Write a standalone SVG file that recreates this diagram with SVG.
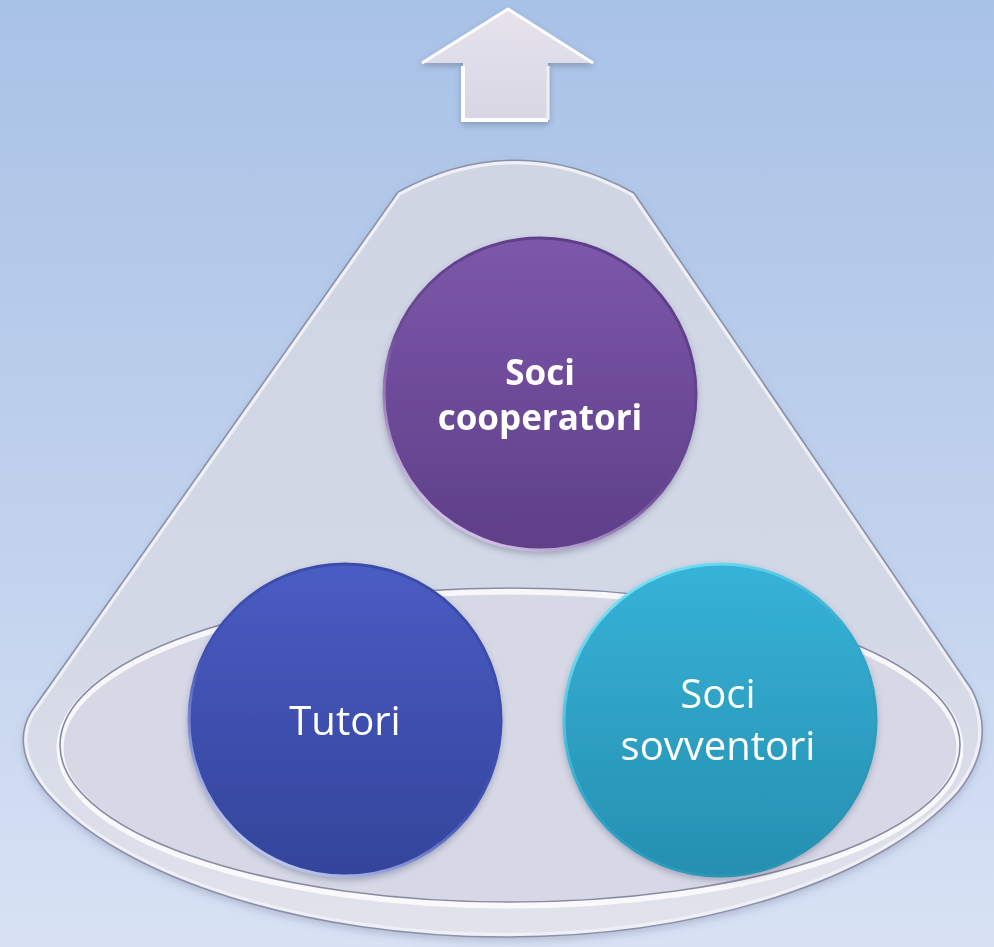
<svg xmlns="http://www.w3.org/2000/svg" width="994" height="947" viewBox="0 0 994 947">
<defs>
<linearGradient id="bg" x1="0" y1="0" x2="0" y2="1">
<stop offset="0" stop-color="#a8c2e6"/>
<stop offset="0.6" stop-color="#c3d3ee"/>
<stop offset="1" stop-color="#d8e2f4"/>
</linearGradient>
<linearGradient id="coneFill" x1="0" y1="0" x2="0" y2="1">
<stop offset="0" stop-color="#cfd5e3"/>
<stop offset="0.6" stop-color="#d3d8e6"/>
<stop offset="1" stop-color="#e1e3ec"/>
</linearGradient>
<linearGradient id="gPurple" x1="0" y1="0" x2="0" y2="1">
<stop offset="0" stop-color="#7d57aa"/>
<stop offset="1" stop-color="#5e3f88"/>
</linearGradient>
<linearGradient id="gBlue" x1="0" y1="0" x2="0" y2="1">
<stop offset="0" stop-color="#4a5cc4"/>
<stop offset="1" stop-color="#33449a"/>
</linearGradient>
<linearGradient id="gTeal" x1="0" y1="0" x2="0" y2="1">
<stop offset="0" stop-color="#36b3d8"/>
<stop offset="1" stop-color="#268fb0"/>
</linearGradient>
<linearGradient id="rimP" x1="0.8" y1="0" x2="0.2" y2="1">
<stop offset="0" stop-color="#5b3c85"/>
<stop offset="0.55" stop-color="#6a4896"/>
<stop offset="1" stop-color="#e4d6f4"/>
</linearGradient>
<linearGradient id="rimB" x1="0.8" y1="0" x2="0.2" y2="1">
<stop offset="0" stop-color="#3a4aa6"/>
<stop offset="0.55" stop-color="#3f51b4"/>
<stop offset="1" stop-color="#d0dafc"/>
</linearGradient>
<linearGradient id="rimT" x1="0.2" y1="0" x2="0.8" y2="1">
<stop offset="0" stop-color="#7ee6fb"/>
<stop offset="0.5" stop-color="#30a8cc"/>
<stop offset="1" stop-color="#2a90b0"/>
</linearGradient>
<linearGradient id="arrowFill" x1="0" y1="0" x2="0" y2="1">
<stop offset="0" stop-color="#e6e3ee"/>
<stop offset="1" stop-color="#d8d6e4"/>
</linearGradient>
<filter id="shadow" x="-20%" y="-20%" width="140%" height="140%">
<feDropShadow dx="0" dy="3" stdDeviation="3" flood-color="#404868" flood-opacity="0.35"/>
</filter>
<filter id="softShadow" x="-10%" y="-10%" width="120%" height="130%">
<feDropShadow dx="0" dy="4" stdDeviation="4" flood-color="#5a6284" flood-opacity="0.3"/>
</filter>
<path id="conePath" d="M 398,192 Q 516,128 634,193 L 972,690 Q 998,742 958,792 C 880,880 700,937 505,937 C 310,937 122,880 46,792 Q 10,748 31,712 Z"/>
<clipPath id="coneClip"><use href="#conePath"/></clipPath>
<ellipse id="innerEl" cx="510" cy="745" rx="450" ry="157"/>
</defs>
<style>
.lbl{fill:#ffffff;font-family:"Open Sans","Liberation Sans",sans-serif;text-anchor:middle}
.bold{font-weight:bold;font-size:35px}
.reg{font-size:40px}
.rim{stroke-width:3}
</style>
<rect x="0" y="0" width="994" height="947" fill="url(#bg)"/>

<g id="arrow" filter="url(#shadow)">
<polygon points="508,9 593,63 548,63 548,120 463,120 463,63 422,63" fill="url(#arrowFill)"/>
<polyline points="422,63 508,9 593,63" fill="none" stroke="#ffffff" stroke-width="3" stroke-linejoin="round"/>
<polyline points="463,66 463,120 548,120" fill="none" stroke="#ffffff" stroke-width="4"/>
<polyline points="548,66 548,120" fill="none" stroke="#eeeef6" stroke-width="3"/>
</g>

<g id="cone">
<use href="#conePath" fill="url(#coneFill)" filter="url(#softShadow)"/>
<use href="#conePath" fill="none" stroke="#eef0f6" stroke-width="8" clip-path="url(#coneClip)"/>
<use href="#conePath" fill="none" stroke="#8b90aa" stroke-width="1.6"/>
</g>

<g id="base-ring">
<use href="#innerEl" fill="#d6d8e6"/>
<use href="#innerEl" fill="none" stroke="#ffffff" stroke-width="7" transform="translate(0,3)" opacity="0.8"/>
<use href="#innerEl" fill="none" stroke="#868aa4" stroke-width="1.6"/>
</g>

<g id="node-soci-cooperatori" filter="url(#shadow)">
<circle cx="540" cy="394" r="156" fill="url(#gPurple)" stroke="url(#rimP)" class="rim"/>
<text class="lbl bold" x="540" y="385">Soci</text>
<text class="lbl bold" x="540" y="430">cooperatori</text>
</g>

<g id="node-tutori" filter="url(#shadow)">
<circle cx="345" cy="720" r="156" fill="url(#gBlue)" stroke="url(#rimB)" class="rim"/>
<text class="lbl reg" x="345" y="735">Tutori</text>
</g>

<g id="node-soci-sovventori" filter="url(#shadow)">
<circle cx="720" cy="720" r="156" fill="url(#gTeal)" stroke="url(#rimT)" class="rim"/>
<text class="lbl reg" x="718" y="708">Soci</text>
<text class="lbl reg" x="718" y="760">sovventori</text>
</g>

<g id="connectors"/>
</svg>
